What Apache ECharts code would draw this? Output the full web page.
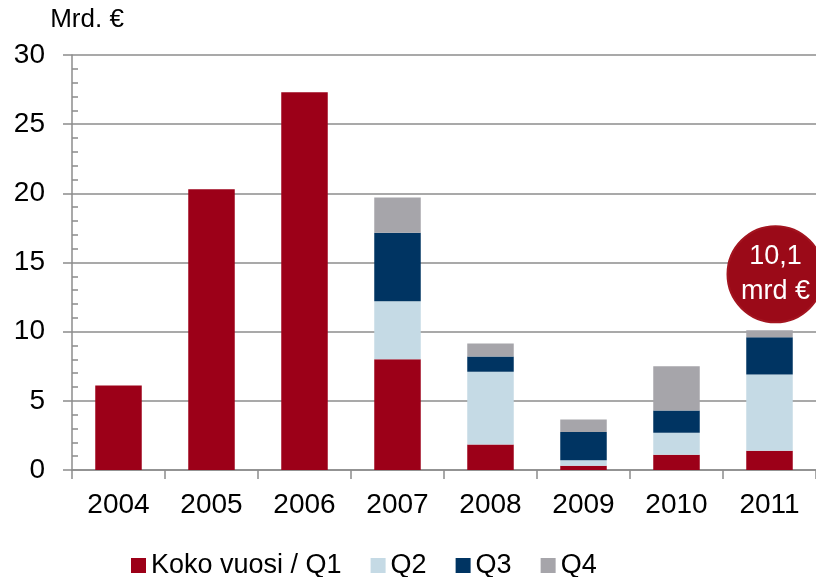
<!DOCTYPE html>
<html>
<head>
<meta charset="utf-8">
<script src="https://cdn.jsdelivr.net/npm/echarts@6/dist/echarts.min.js"></script>
<style>
  html, body { margin: 0; padding: 0; background: #fff; }
  #main { width: 816px; height: 577px; }
</style>
</head>
<body>
<div id="main"></div>
<script>
  var years = ['2004', '2005', '2006', '2007', '2008', '2009', '2010', '2011'];
  var seriesNames = ['Koko vuosi / Q1', 'Q2', 'Q3', 'Q4'];
  var q1 = [6.1, 20.3, 27.3, 8.0, 1.85, 0.3, 1.1, 1.4];
  var q2 = [null, null, null, 4.2, 5.25, 0.4, 1.6, 5.5];
  var q3 = [null, null, null, 4.95, 1.1, 2.05, 1.6, 2.7];
  var q4 = [null, null, null, 2.55, 0.95, 0.9, 3.2, 0.5];
  var colors = ['#9c0018', '#c5dae5', '#003462', '#a6a5aa'];
  var calloutText = '10,1\nmrd €';

  var chart = echarts.init(document.getElementById('main'));
  var font = 'Liberation Sans, Arial, sans-serif';
  var gridColor = '#8c8c8c';

  function bar(name, data, color, extra) {
    var s = {
      name: name,
      type: 'bar',
      stack: 'total',
      barWidth: '50%',
      data: data,
      itemStyle: { color: color },
      animation: false
    };
    return Object.assign(s, extra || {});
  }

  var option = {
    color: colors,
    textStyle: { fontFamily: font },
    grid: { left: 72, right: 0, top: 55, bottom: 107 },
    legend: {
      left: 126,
      top: 547,
      itemWidth: 15,
      itemHeight: 15,
      itemGap: 29,
      icon: 'rect',
      textStyle: { fontSize: 27, color: '#000', fontFamily: font },
      data: seriesNames
    },
    xAxis: {
      type: 'category',
      data: years,
      axisLine: { lineStyle: { color: gridColor, width: 1.5 } },
      axisTick: { show: true, length: 9, lineStyle: { color: gridColor, width: 1.5 } },
      axisLabel: { fontSize: 28, color: '#000', margin: 21 }
    },
    yAxis: [{
      type: 'value',
      min: 0, max: 30, interval: 5,
      name: 'Mrd. €',
      nameLocation: 'end',
      nameGap: 22,
      nameTextStyle: { fontSize: 26, color: '#000', align: 'center', padding: [0, 0, 0, 30] },
      axisLine: { show: true, lineStyle: { color: gridColor, width: 1.5 } },
      axisTick: { show: true, length: 9, lineStyle: { color: gridColor, width: 1.5 } },
      axisLabel: { fontSize: 28, color: '#000', margin: 27 },
      splitLine: { show: true, lineStyle: { color: gridColor, width: 1.5 } }
    }, {
      type: 'value',
      position: 'left',
      min: 0, max: 30, interval: 5,
      axisLine: { show: false },
      axisTick: { show: false, inside: true },
      minorTick: { show: true, splitNumber: 5, length: 6, lineStyle: { color: gridColor, width: 1.5 } },
      axisLabel: { show: false },
      splitLine: { show: false }
    }],
    series: [
      bar(seriesNames[0], q1, colors[0]),
      bar(seriesNames[1], q2, colors[1]),
      bar(seriesNames[2], q3, colors[2]),
      bar(seriesNames[3], q4, colors[3], {
        markPoint: {
          silent: true,
          symbol: 'circle',
          symbolSize: 96,
          symbolOffset: [6, 0],
          itemStyle: { color: '#9b0a18', borderColor: '#a3141f', borderWidth: 2 },
          label: {
            show: true,
            formatter: calloutText,
            color: '#fff',
            fontSize: 27,
            lineHeight: 35,
            offset: [0, 0]
          },
          data: [{ coord: ['2011', 14.15] }]
        }
      })
    ]
  };

  chart.setOption(option);
</script>
</body>
</html>
